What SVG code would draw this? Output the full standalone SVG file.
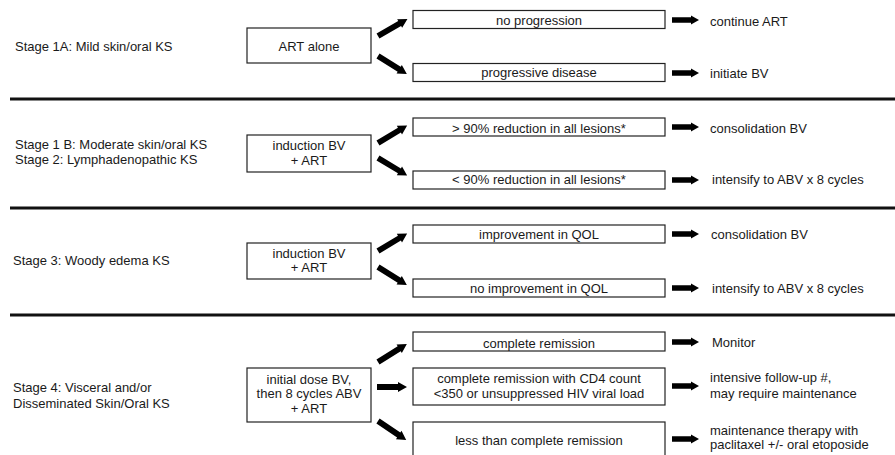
<svg xmlns="http://www.w3.org/2000/svg" xmlns:xlink="http://www.w3.org/1999/xlink" width="895" height="455" viewBox="0 0 895 455">
<style>
text{font-family:"Liberation Sans",Arial,sans-serif;font-size:13px;fill:#1a1a1a}
.c{text-anchor:middle}
.box{fill:#fff;stroke:#222;stroke-width:1.2}
.sep{stroke:#111;stroke-width:3}
.arr{fill:#000}
</style>
<defs>
<path id="ah" d="M0,-2.7 H19 V-4.5 L27,0 L19,4.5 V2.7 H0 Z"/>
<path id="ad" d="M0,-2.9 H25 V-5 L34,0 L25,5 V2.9 H0 Z"/>
<path id="am" d="M0,-2.9 H21 V-5 L30,0 L21,5 V2.9 H0 Z"/>
</defs>
<rect width="895" height="455" fill="#fff"/>
<g id="separators">
<line class="sep" x1="10" y1="99" x2="895" y2="99"/>
<line class="sep" x1="10" y1="208" x2="895" y2="208"/>
<line class="sep" x1="10" y1="315" x2="895" y2="315"/>
</g>
<g id="stage-labels">
<text x="15" y="50.5">Stage 1A: Mild skin/oral KS</text>
<text x="15" y="149">Stage 1 B: Moderate skin/oral KS</text>
<text x="15" y="164">Stage 2: Lymphadenopathic KS</text>
<text x="13" y="264.5">Stage 3: Woody edema KS</text>
<text x="13" y="391.5">Stage 4: Visceral and/or</text>
<text x="13" y="407.5">Disseminated Skin/Oral KS</text>
</g>
<g id="s1-treatment"><rect class="box" x="247" y="28" width="124" height="35"/><text class="c" x="309" y="50.5">ART alone</text></g>
<g id="s1-no-progression"><rect class="box" x="413" y="10.5" width="252" height="18"/><text class="c" x="539" y="25">no progression</text></g>
<g id="s1-progressive"><rect class="box" x="413" y="63.5" width="252" height="18"/><text class="c" x="539" y="77">progressive disease</text></g>
<g id="s1-continue"><text x="710" y="25.5">continue ART</text></g>
<g id="s1-initiate"><text x="710" y="77.5">initiate BV</text></g>

<g id="s2-treatment"><rect class="box" x="247" y="135" width="124" height="37"/><text class="c" x="309" y="149.5">induction BV</text><text class="c" x="309" y="165">+ ART</text></g>
<g id="s2-gt90"><rect class="box" x="413" y="118" width="252" height="18"/><text class="c" x="539" y="132.5">&gt; 90% reduction in all lesions*</text></g>
<g id="s2-lt90"><rect class="box" x="413" y="171" width="252" height="18"/><text class="c" x="539" y="183.5">&lt; 90% reduction in all lesions*</text></g>
<g id="s2-consolidation"><text x="710" y="132.5">consolidation BV</text></g>
<g id="s2-intensify"><text x="712" y="184">intensify to ABV x 8 cycles</text></g>

<g id="s3-treatment"><rect class="box" x="247" y="243" width="124" height="36"/><text class="c" x="309" y="257.5">induction BV</text><text class="c" x="309" y="271.5">+ ART</text></g>
<g id="s3-improvement"><rect class="box" x="413" y="225" width="252" height="18"/><text class="c" x="539" y="238.5">improvement in QOL</text></g>
<g id="s3-no-improvement"><rect class="box" x="413" y="279" width="252" height="18"/><text class="c" x="539" y="292.5">no improvement in QOL</text></g>
<g id="s3-consolidation"><text x="711" y="238.5">consolidation BV</text></g>
<g id="s3-intensify"><text x="712" y="292.5">intensify to ABV x 8 cycles</text></g>

<g id="s4-treatment"><rect class="box" x="247" y="368" width="124" height="54"/><text class="c" x="309" y="383.5">initial dose BV,</text><text class="c" x="309" y="397.5">then 8 cycles ABV</text><text class="c" x="309" y="412.5">+ ART</text></g>
<g id="s4-complete"><rect class="box" x="413" y="332" width="252" height="19"/><text class="c" x="539" y="347.5">complete remission</text></g>
<g id="s4-complete-cd4"><rect class="box" x="413" y="368" width="252" height="37"/><text class="c" x="539" y="382.5">complete remission with CD4 count</text><text class="c" x="539" y="397.5">&lt;350 or unsuppressed HIV viral load</text></g>
<g id="s4-less"><rect class="box" x="413" y="422" width="252" height="45"/><text class="c" x="539" y="444.5">less than complete remission</text></g>
<g id="s4-monitor"><text x="712" y="346.5">Monitor</text></g>
<g id="s4-followup"><text x="710" y="381.5">intensive follow-up #,</text><text x="710" y="397.5">may require maintenance</text></g>
<g id="s4-maintenance"><text x="710" y="434.5">maintenance therapy with</text><text x="710" y="448.5">paclitaxel +/- oral etoposide</text></g>

<g id="connectors" class="arr">
<use xlink:href="#ad" transform="translate(378,36) rotate(-30)"/>
<use xlink:href="#ad" transform="translate(378,56) rotate(32)"/>
<use xlink:href="#ad" transform="translate(378,143) rotate(-31)"/>
<use xlink:href="#ad" transform="translate(378,158) rotate(31)"/>
<use xlink:href="#ad" transform="translate(378,251) rotate(-31)"/>
<use xlink:href="#ad" transform="translate(378,267) rotate(32)"/>
<use xlink:href="#ad" transform="translate(378,362) rotate(-32)"/>
<use xlink:href="#am" transform="translate(377,387)"/>
<use xlink:href="#ad" transform="translate(378,421) rotate(34)"/>
<use xlink:href="#ah" transform="translate(672,20)"/>
<use xlink:href="#ah" transform="translate(672,73)"/>
<use xlink:href="#ah" transform="translate(672,127)"/>
<use xlink:href="#ah" transform="translate(672,180)"/>
<use xlink:href="#ah" transform="translate(672,234)"/>
<use xlink:href="#ah" transform="translate(672,288)"/>
<use xlink:href="#ah" transform="translate(672,342)"/>
<use xlink:href="#ah" transform="translate(672,386)"/>
<use xlink:href="#ah" transform="translate(672,439)"/>
</g>
</svg>
